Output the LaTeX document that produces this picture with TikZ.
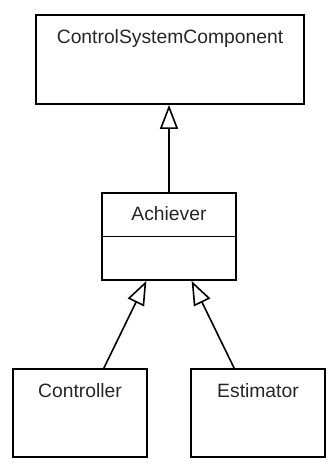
\documentclass[tikz,border=0pt]{standalone}
\usepackage{fontspec}
\setmainfont{Liberation Sans}
\usetikzlibrary{arrows.meta}
\tikzset{
	classbox/.style = {rectangle, draw, line width=1.8pt, inner sep=0pt, text=black!85,
		font=\fontsize{19.3pt}{23pt}\selectfont},
	inherits/.style = {-{Triangle[open, length=24pt, width=18pt]}, line width=1.6pt},
}
\begin{document}
\begin{tikzpicture}[x=1pt, y=-1pt]
	\useasboundingbox (0,0) rectangle (329,463);
	\node (CSC)  at (170, 59.5)	[classbox, minimum width=268pt, text height=28pt, text depth=61pt]	{ControlSystemComponent};
	\node (Ach)  at (169, 236.5)	[classbox, minimum width=134pt, text height=27pt, text depth=60pt]	{Achiever};
	\node (Ctrl) at ( 80, 413)	[classbox, minimum width=134pt, text height=28pt, text depth=60pt]	{Controller};
	\node (Est)  at (258, 413)	[classbox, minimum width=134pt, text height=28pt, text depth=60pt]	{Estimator};
	\draw[line width=1.8pt] (Ach.west) -- (Ach.east);
	\draw[inherits] (Ach.north) -- (Ach.north |- CSC.south);
	\draw[inherits] (Ctrl.62) -- (Ach.243);
	\draw[inherits] (Est.118) -- (Ach.297);
\end{tikzpicture}
\end{document}
